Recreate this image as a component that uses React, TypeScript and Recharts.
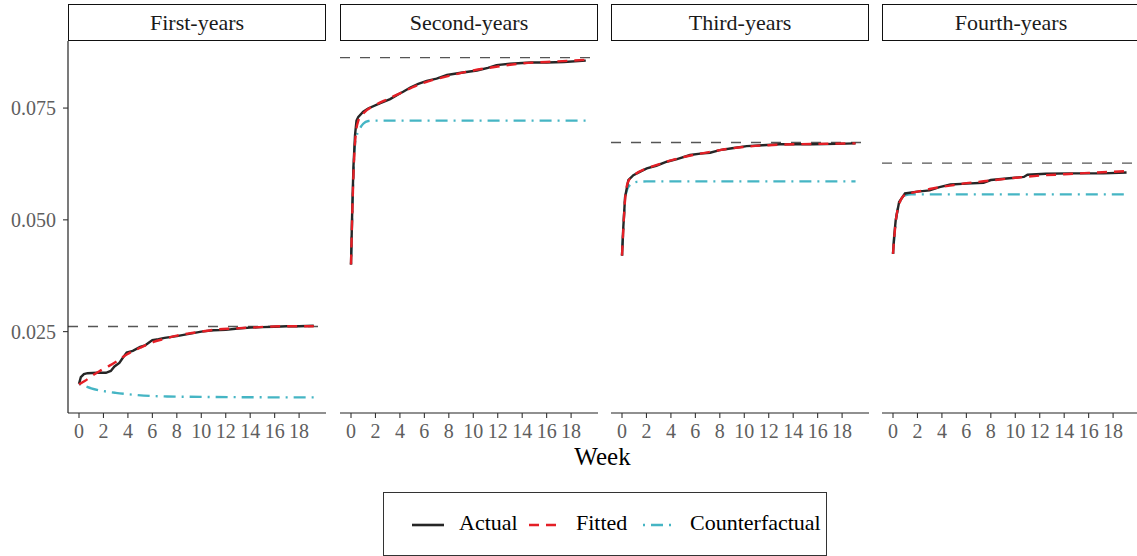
import {
    LineChart,
    Line,
    XAxis,
    YAxis,
    ReferenceLine,
} from "recharts";

type Pt = [number, number];

const panelNames = ["First-years", "Second-years", "Third-years", "Fourth-years"];
const weekTicks = [0, 2, 4, 6, 8, 10, 12, 14, 16, 18];
const rateTicks = [0.025, 0.05, 0.075];
const targetRates = [0.02615, 0.0863, 0.0673, 0.0627];

// First-years
const firstActual: Pt[] = [
    [0, 0.0133], [0.15, 0.0148], [0.4, 0.0155], [0.7, 0.0157], [1.5, 0.0158],
    [2.2, 0.0158], [2.6, 0.0162], [2.9, 0.0172], [3.3, 0.018], [3.6, 0.0192],
    [3.9, 0.0203], [4.4, 0.0207], [5.0, 0.0216], [5.4, 0.0219], [5.7, 0.0225],
    [6.0, 0.0231], [6.5, 0.0233], [7.0, 0.0236], [8.0, 0.024], [9.0, 0.0245],
    [10.0, 0.025], [11.0, 0.0253], [12.0, 0.0254], [13.0, 0.0257], [14.0, 0.0259],
    [15.0, 0.026], [16.0, 0.0261], [17.0, 0.0262], [18.0, 0.0262], [19.2, 0.0263],
];
const firstFitted: Pt[] = [
    [0, 0.0132], [0.5, 0.014], [1, 0.015], [1.7, 0.0162], [2.5, 0.0174],
    [3.1, 0.0184], [3.9, 0.0199], [5, 0.0214], [6.1, 0.0227], [7, 0.0234],
    [8, 0.0241], [9, 0.0246], [10, 0.025], [11, 0.0254], [12.7, 0.0257],
    [14, 0.0259], [15.4, 0.0261], [17, 0.0262], [19.2, 0.0262],
];
const firstCounter: Pt[] = [
    [0, 0.0133], [0.5, 0.0128], [1, 0.0123], [2, 0.0117], [3, 0.0113],
    [4.4, 0.0109], [6, 0.0106], [7.2, 0.0105], [10, 0.0104], [12.6, 0.01035],
    [16, 0.0103], [19.2, 0.0103],
];

// Second-years
const secondActual: Pt[] = [
    [0, 0.04], [0.1, 0.052], [0.2, 0.062], [0.33, 0.069], [0.45, 0.0722],
    [0.6, 0.073], [1.0, 0.0742], [1.4, 0.0749], [2.4, 0.0761], [3.2, 0.077],
    [3.75, 0.0779], [4.3, 0.0787], [4.85, 0.0796], [5.5, 0.0804], [6.2, 0.0811],
    [7.0, 0.0816], [7.85, 0.0824], [9.0, 0.0829], [10.3, 0.0834], [11.2, 0.084],
    [11.9, 0.0846], [13, 0.0849], [14.7, 0.0852], [16, 0.0852], [17.4, 0.0853],
    [19.2, 0.0856],
];
const secondFitted: Pt[] = [
    [0, 0.04], [0.1, 0.051], [0.2, 0.06], [0.35, 0.068], [0.6, 0.0722],
    [1, 0.0738], [2, 0.0757], [3, 0.077], [4, 0.0783], [5, 0.0796],
    [6, 0.0807], [7, 0.0815], [8, 0.0822], [10, 0.0834], [12, 0.0843],
    [14, 0.085], [16, 0.0853], [19.2, 0.0858],
];
const secondCounter: Pt[] = [
    [0, 0.04], [0.1, 0.051], [0.2, 0.06], [0.35, 0.0675], [0.74, 0.0705],
    [1.0, 0.0715], [1.42, 0.0721], [2, 0.0722], [19.2, 0.0722],
];

// Third-years
const thirdActual: Pt[] = [
    [0, 0.042], [0.1, 0.048], [0.25, 0.0551], [0.52, 0.0589], [0.93, 0.06],
    [1.5, 0.0608], [2.03, 0.0615], [2.8, 0.0621], [3.66, 0.063], [4.5, 0.0636],
    [5.56, 0.0645], [6.4, 0.0648], [7.2, 0.065], [8.0, 0.0656], [9, 0.066],
    [10.2, 0.0665], [11.5, 0.0667], [12.9, 0.0669], [14, 0.0669], [15.65, 0.0669],
    [17.5, 0.067], [19.1, 0.0671],
];
const thirdFitted: Pt[] = [
    [0, 0.042], [0.1, 0.0475], [0.25, 0.0545], [0.5, 0.0585], [1, 0.06],
    [2, 0.0615], [3, 0.0624], [4, 0.0633], [5, 0.064], [6, 0.0646],
    [7, 0.0651], [8, 0.0656], [10, 0.0663], [12, 0.0667], [14, 0.0669],
    [16, 0.067], [19.1, 0.0671],
];
const thirdCounter: Pt[] = [
    [0, 0.042], [0.1, 0.0475], [0.25, 0.0545], [0.45, 0.057], [0.66, 0.0578],
    [1.23, 0.0585], [2, 0.0586], [19.1, 0.0586],
];

// Fourth-years
const fourthActual: Pt[] = [
    [0, 0.0424], [0.1, 0.0465], [0.22, 0.0499], [0.5, 0.054], [0.98, 0.0559],
    [2, 0.0563], [3.0, 0.0566], [3.8, 0.0573], [4.7, 0.0579], [6, 0.0581],
    [7.4, 0.0583], [8.0, 0.0589], [9.5, 0.0593], [10.7, 0.0596], [11.0, 0.0601],
    [12.5, 0.0603], [14.5, 0.0604], [17.2, 0.0604], [19.1, 0.0606],
];
const fourthFitted: Pt[] = [
    [0, 0.0424], [0.1, 0.046], [0.22, 0.0495], [0.5, 0.0535], [1, 0.0556],
    [2, 0.0563], [3, 0.0569], [4, 0.0574], [5, 0.0578], [6, 0.0582],
    [7, 0.0585], [8, 0.0588], [10, 0.0594], [12, 0.0599], [14, 0.0602],
    [16, 0.0605], [19.1, 0.0609],
];
const fourthCounter: Pt[] = [
    [0, 0.0424], [0.1, 0.046], [0.22, 0.0495], [0.5, 0.0535], [0.98, 0.0555],
    [1.5, 0.0557], [19.1, 0.0557],
];

const actuals = [firstActual, secondActual, thirdActual, fourthActual];
const fitteds = [firstFitted, secondFitted, thirdFitted, fourthFitted];
const counters = [firstCounter, secondCounter, thirdCounter, fourthCounter];

const FONT = "'Liberation Serif', 'DejaVu Serif', serif";
const BLACK = "#262626";
const RED = "#E41F26";
const TEAL = "#45B5C4";
const TICK_GREY = "#5E5E5E";

const PLOT_TOP = 41;
const PLOT_BOTTOM = 413;
const PANEL_W = 258;
const Y_AXIS_W = 68;
const panelLefts = [68, 340, 611, 882];

const toRows = (pts: Pt[]) => pts.map(([w, v]) => ({ w, v }));

const Panel = ({ idx }: { idx: number }) => {
    const showY = idx === 0;
    const width = showY ? PANEL_W + Y_AXIS_W : PANEL_W;
    const left = showY ? 0 : panelLefts[idx];
    const height = 446;

    return (
        <div style={{ position: "absolute", left, top: 0 }}>
            <LineChart
                width={width}
                height={height}
                margin={{ top: PLOT_TOP, right: 0, left: 0, bottom: 0 }}
            >
                <XAxis
                    type="number"
                    dataKey="w"
                    domain={[-0.9, 20.2]}
                    ticks={weekTicks}
                    interval={0}
                    height={height - PLOT_BOTTOM}
                    allowDataOverflow
                    axisLine={{ stroke: "#222", strokeWidth: 1.2 }}
                    tickLine={{ stroke: "#333", strokeWidth: 1.1 }}
                    tickSize={5}
                    tickMargin={6}
                    tick={{ fill: TICK_GREY, fontSize: 20, fontFamily: FONT }}
                />
                <YAxis
                    type="number"
                    dataKey="v"
                    domain={[0.0068, 0.09]}
                    ticks={rateTicks}
                    interval={0}
                    hide={!showY}
                    width={Y_AXIS_W}
                    allowDataOverflow
                    tickFormatter={(t: number) => t.toFixed(3)}
                    axisLine={{ stroke: "#222", strokeWidth: 1.2 }}
                    tickLine={{ stroke: "#333", strokeWidth: 1.1 }}
                    tickSize={5}
                    tickMargin={7}
                    tick={{ fill: TICK_GREY, fontSize: 20, fontFamily: FONT }}
                />
                <ReferenceLine
                    y={targetRates[idx]}
                    stroke="#555"
                    strokeWidth={1.3}
                    strokeDasharray="10 10"
                />
                <Line
                    data={toRows(counters[idx])}
                    dataKey="v"
                    type="monotone"
                    stroke={TEAL}
                    strokeWidth={2.4}
                    strokeDasharray="2 6 12 6"
                    dot={false}
                    isAnimationActive={false}
                />
                <Line
                    data={toRows(actuals[idx])}
                    dataKey="v"
                    type="linear"
                    stroke={BLACK}
                    strokeWidth={2.4}
                    dot={false}
                    isAnimationActive={false}
                />
                <Line
                    data={toRows(fitteds[idx])}
                    dataKey="v"
                    type="monotone"
                    stroke={RED}
                    strokeWidth={2.4}
                    strokeDasharray="10 7"
                    dot={false}
                    isAnimationActive={false}
                />
            </LineChart>

            {/* Strip */}
            <div
                style={{
                    position: "absolute",
                    left: showY ? Y_AXIS_W : 0,
                    top: 4,
                    width: PANEL_W - 2,
                    height: PLOT_TOP - 4 - 2,
                    border: "1.3px solid #111",
                    background: "#fff",
                    display: "flex",
                    alignItems: "center",
                    justifyContent: "center",
                    fontFamily: FONT,
                    fontSize: 22,
                    color: "#1A1A1A",
                }}
            >
                {panelNames[idx]}
            </div>
        </div>
    );
};

const LegendKey = ({ color, dash }: { color: string; dash?: string }) => (
    <svg width={34} height={10} style={{ display: "block" }}>
        <line
            x1={1}
            y1={5}
            x2={33}
            y2={5}
            stroke={color}
            strokeWidth={2.6}
            strokeDasharray={dash}
        />
    </svg>
);

const legendItems = [
    { label: "Actual", color: BLACK, dash: undefined, keyX: 27, textX: 75 },
    { label: "Fitted", color: RED, dash: "10 7", keyX: 144, textX: 192 },
    { label: "Counterfactual", color: TEAL, dash: "2 6 12 6", keyX: 258, textX: 306 },
];

export default function App() {
    return (
        <div
            style={{
                position: "absolute",
                left: 0,
                top: 0,
                width: 1137,
                height: 556,
                overflow: "hidden",
                background: "#fff",
                fontFamily: FONT,
            }}
        >
            {[0, 1, 2, 3].map((i) => (
                <Panel key={i} idx={i} />
            ))}

            {/* X axis title */}
            <div
                style={{
                    position: "absolute",
                    left: 68,
                    width: 1069,
                    top: 443,
                    textAlign: "center",
                    fontSize: 25,
                    color: "#000",
                    lineHeight: "28px",
                }}
            >
                Week
            </div>

            {/* Legend */}
            <div
                style={{
                    position: "absolute",
                    left: 383,
                    top: 492,
                    width: 442,
                    height: 62,
                    border: "1px solid #333",
                }}
            >
                {legendItems.map((it) => (
                    <div key={it.label}>
                        <div style={{ position: "absolute", left: it.keyX, top: 27 }}>
                            <LegendKey color={it.color} dash={it.dash} />
                        </div>
                        <div
                            style={{
                                position: "absolute",
                                left: it.textX,
                                top: 18,
                                fontSize: 22,
                                lineHeight: "24px",
                                color: "#000",
                                whiteSpace: "nowrap",
                            }}
                        >
                            {it.label}
                        </div>
                    </div>
                ))}
            </div>
        </div>
    );
}
